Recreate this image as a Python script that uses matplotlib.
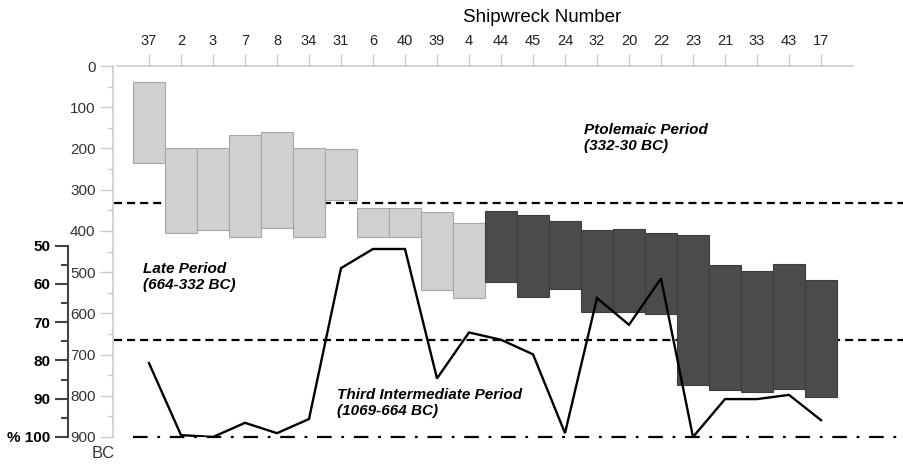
import matplotlib.pyplot as plt
import numpy as np

plt.rcParams['font.family'] = ['Liberation Sans', 'DejaVu Sans']
plt.rcParams['lines.scale_dashes'] = False

# shipwreck numbers along the top axis
wrecks = ['37', '2', '3', '7', '8', '34', '31', '6', '40', '39', '4',
          '44', '45', '24', '32', '20', '22', '23', '21', '33', '43', '17']
# date ranges (years BC) of each wreck: upper and lower end
date_top = [40, 200, 200, 167, 160, 200, 202, 345, 345, 355, 382,
            351, 361, 377, 398, 396, 405, 411, 482, 497, 481, 518]
date_bottom = [235, 404, 398, 415, 392, 414, 325, 415, 415, 544, 564,
               523, 560, 542, 597, 597, 602, 775, 787, 791, 783, 804]
# dark bars are the Ptolemaic-dated wrecks
dark = [False] * 11 + [True] * 11
# percentage curve (left inner axis)
percent = [80.7, 99.5, 100, 96.3, 99, 95.3, 55.9, 50.9, 50.9, 84.7, 72.7,
           74.6, 78.4, 99.0, 63.7, 70.7, 58.6, 100, 90.1, 90.1, 89.0, 95.6]

period_bounds = [332, 664]

x = np.arange(len(wrecks))

fig = plt.figure(figsize=(9.04, 4.66), dpi=100)
ax = fig.add_axes([117 / 904, 1 - 437 / 466, 1 - 117 / 904, (437 - 66) / 466])

ax.set_xlim(-1, (904 - 149) / 32)
ax.set_ylim(900, 0)

# period boundaries
for b in period_bounds:
    ax.plot([-1.1, 24], [b, b], color='black', lw=1.6, dashes=(5.8, 3.6),
            zorder=1, clip_on=False)
ax.plot([-0.5, 24], [900, 900], color='black', lw=1.6,
        dashes=(10.5, 7, 2, 7), zorder=1, clip_on=False)

# date range bars
for i in range(len(wrecks)):
    fc = '#4b4b4b' if dark[i] else '#d0d0d0'
    ec = '#3d3d3d' if dark[i] else '#a6a6a6'
    ax.bar(x[i], date_bottom[i] - date_top[i], bottom=date_top[i], width=1.0,
           color=fc, edgecolor=ec, linewidth=0.8, zorder=2)

# axes styling
for s in ['right', 'bottom']:
    ax.spines[s].set_visible(False)
ax.spines['left'].set_position(('outward', 3))
ax.spines['left'].set_bounds(0, 900)
ax.spines['top'].set_bounds(-1, 22)
for s in ['left', 'top']:
    ax.spines[s].set_color('#cccccc')
    ax.spines[s].set_linewidth(1.2)

ax.set_yticks(np.arange(0, 901, 100))
ax.set_yticks(np.arange(50, 900, 100), minor=True)
ax.tick_params(axis='y', which='major', length=9.5, width=1, color='#cccccc',
               labelsize=11, labelcolor='#333333', pad=3)
ax.tick_params(axis='y', which='minor', length=4.5, width=1, color='#cccccc')

ax.xaxis.tick_top()
ax.set_xticks(x)
ax.set_xticklabels(wrecks)
ax.tick_params(axis='x', length=9, width=1, color='#cccccc', labelsize=10.5,
               labelcolor='#222222', pad=4)
fig.text((149 + 32 * 12.28) / 904, 1 - 17 / 466, 'Shipwreck Number',
         fontsize=13.5, ha='center', va='center')

# percentage axis sharing the plot area
ax2 = ax.twinx()
ax2.set_ylim(100, 50 - (245.7 - 66) / 3.832)
ax2.plot(x, percent, color='black', lw=1.7, zorder=5, solid_joinstyle='miter')
ax2.yaxis.tick_left()
ax2.yaxis.set_label_position('left')
for s in ['right', 'top', 'bottom']:
    ax2.spines[s].set_visible(False)
ax2.spines['left'].set_position(('outward', 35.3))
ax2.spines['left'].set_bounds(50, 100)
ax2.spines['left'].set_color('#444444')
ax2.spines['left'].set_linewidth(1.5)
ax2.set_yticks([50, 60, 70, 80, 90, 100])
ax2.set_yticklabels(['50', '60', '70', '80', '90', '% 100'], fontweight='bold')
ax2.set_yticks([55, 65, 75, 85, 95], minor=True)
ax2.tick_params(axis='y', which='major', length=9.5, width=1.5, color='#444444',
                labelsize=11, pad=3)
ax2.tick_params(axis='y', which='minor', length=5, width=1.5, color='#444444')

fig.text(103 / 904, 1 - 453 / 466, 'BC', fontsize=12, color='#333333',
         ha='center', va='center')

# period labels
lab = dict(fontsize=11, fontweight='bold', fontstyle='italic', va='top',
           ha='left', linespacing=1.2, zorder=6)
ax.text(13.6, 138, 'Ptolemaic Period\n(332-30 BC)', **lab)
ax.text(-0.18, 476, 'Late Period\n(664-332 BC)', **lab)
ax.text(5.88, 780, 'Third Intermediate Period\n(1069-664 BC)', **lab)

fig.savefig('out.png', dpi=100)
